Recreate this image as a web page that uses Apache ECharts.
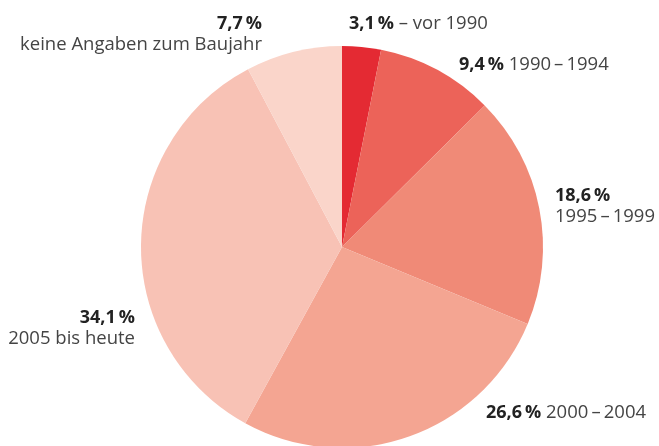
<!DOCTYPE html>
<html>
<head>
<meta charset="utf-8">
<script src="https://cdn.jsdelivr.net/npm/echarts@6/dist/echarts.min.js"></script>
<style>
  html, body { margin: 0; padding: 0; background: #fff; }
  #chart { width: 659px; height: 446px; }
</style>
</head>
<body>
<div id="chart"></div>
<script>
// Anteile nach Baujahr (Prozent), im Uhrzeigersinn ab 12 Uhr
var categories = ['– vor 1990', '1990\u2009–\u20091994', '1995\u2009–\u20091999', '2000\u2009–\u20092004', '2005 bis heute', 'keine Angaben zum Baujahr'];
var values = [3.1, 9.4, 18.6, 26.6, 34.1, 7.7];
var colors = ['#e42a33', '#ec6359', '#f08a77', '#f4a592', '#f8c2b5', '#fad5ca'];
// zweizeilige Beschriftung?
var twoLines = [false, false, true, false, true, true];

// Beschriftungspositionen (x, oberer Rand, Ausrichtung)
var labelPos = [
    { x: 349, y: 13, align: 'left' },
    { x: 459, y: 54, align: 'left' },
    { x: 555, y: 185, align: 'left' },
    { x: 486, y: 402, align: 'left' },
    { x: 135, y: 307, align: 'right' },
    { x: 262, y: 13, align: 'right' }
];

function pct(v) {
    return String(v).replace('.', ',') + '\u2009%';
}

var data = categories.map(function (name, i) {
    return {
        name: name,
        value: values[i],
        itemStyle: { color: colors[i] },
        label: { align: labelPos[i].align }
    };
});

var chart = echarts.init(document.getElementById('chart'));
var option = {
    animation: false,
    series: [
        {
            type: 'pie',
            center: [342, 247],
            radius: [0, 201],
            startAngle: 90,
            clockwise: true,
            silent: true,
            data: data,
            itemStyle: { borderWidth: 0 },
            labelLine: { show: false },
            label: {
                show: true,
                position: 'outside',
                overflow: 'none',
                fontFamily: 'Open Sans',
                fontSize: 18.5,
                color: '#444',
                lineHeight: 21,
                formatter: function (p) {
                    var sep = twoLines[p.dataIndex] ? '\n' : ' ';
                    return '{b|' + pct(p.value) + '}' + sep + '{n|' + p.name + '}';
                },
                rich: {
                    b: { fontFamily: 'Open Sans', fontSize: 18, fontWeight: 'bold', color: '#222', lineHeight: 21 },
                    n: { fontFamily: 'Open Sans', fontSize: 18.5, color: '#444', lineHeight: 21 }
                }
            },
            labelLayout: function (params) {
                var p = labelPos[params.dataIndex];
                return { x: p.x, y: p.y, align: p.align, verticalAlign: 'top' };
            }
        }
    ]
};
chart.setOption(option);
</script>
</body>
</html>
